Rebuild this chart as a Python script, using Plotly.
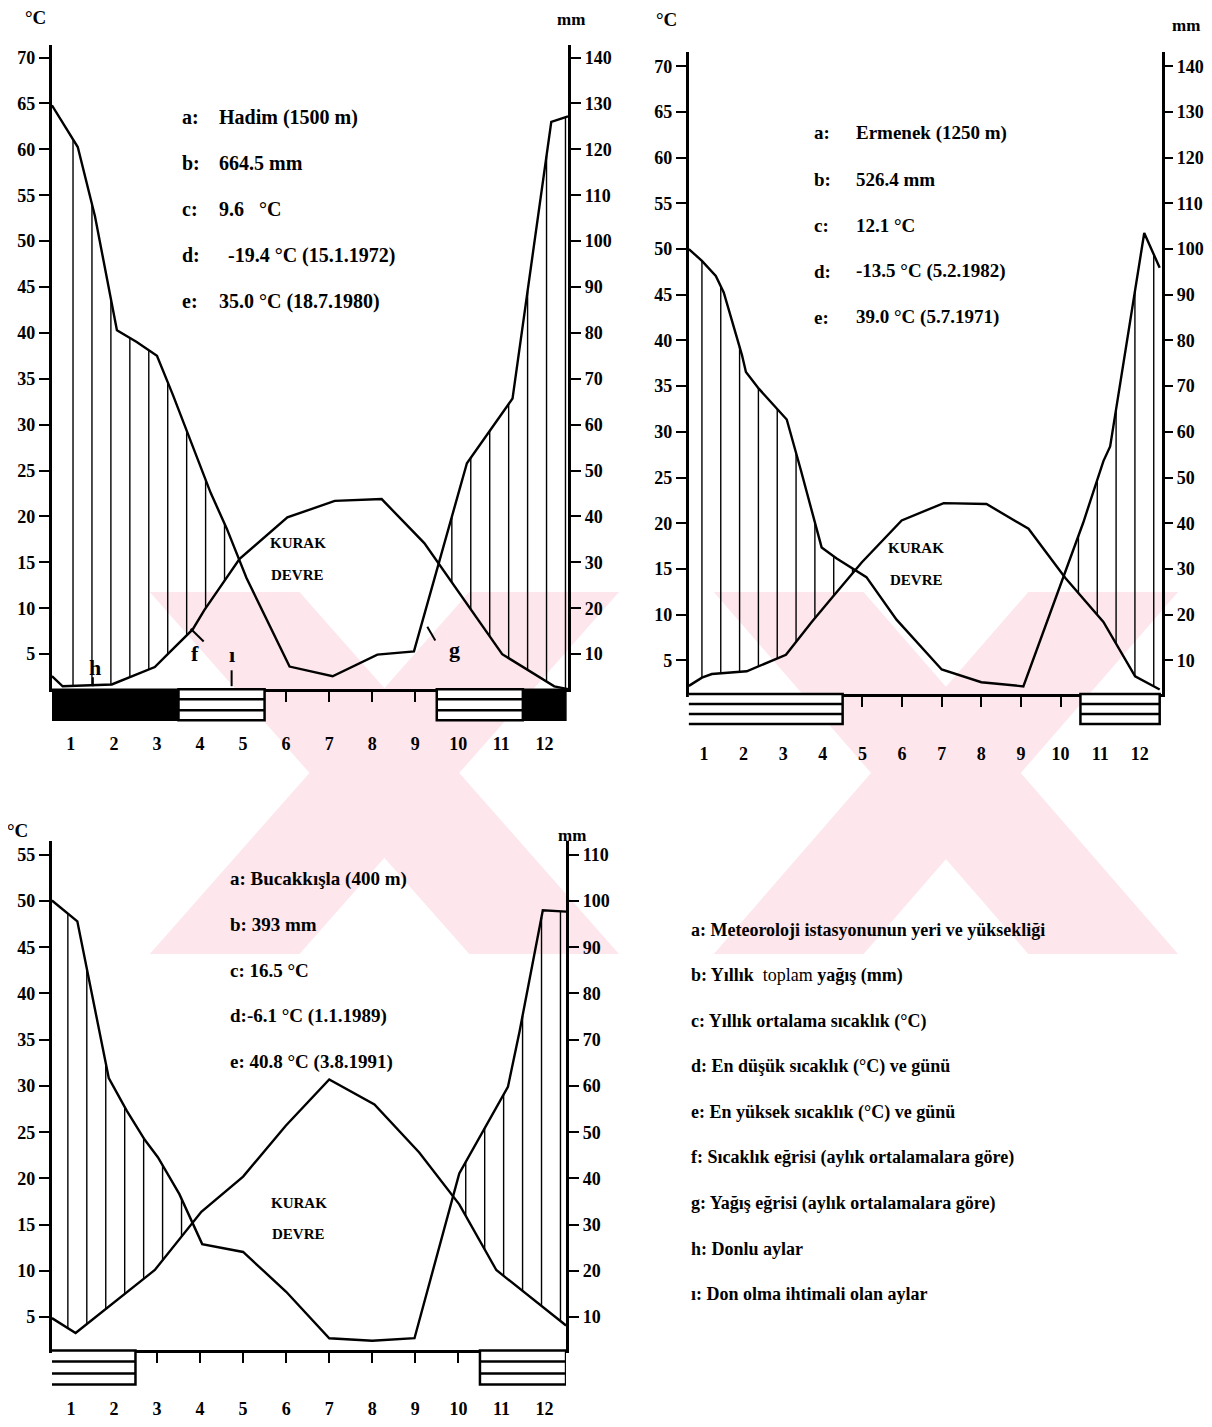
import numpy as np
import plotly.graph_objects as go

# page offset (browser body margin) and figure size
OFF = 8
W, H = 1212 - 2 * OFF, 1427 - 2 * OFF

# ---------------- data ----------------
MONTHS = list(range(1, 13))
MONTH_LABELS = [str(m) for m in MONTHS]

# Hadim (1500 m)
hadim_temp_month = [0.56, 0.81, 1.95, 2.95, 3.25, 3.83, 4.1, 4.92, 6.03, 7.13, 8.22, 9.21, 11.02, 12.23, 12.55]
hadim_temp_c = [2.6, 1.5, 1.7, 3.6, 5.0, 7.7, 9.8, 15.4, 19.9, 21.7, 21.9, 17.1, 5.0, 1.5, 1.2]
hadim_prec_month = [0.56, 1.16, 1.56, 2.07, 2.53, 3.0, 3.37, 3.83, 4.25, 4.62, 5.08, 6.08, 7.08, 8.12, 8.97,
                    10.2, 11.26, 12.16, 12.55]
hadim_prec_mm = [129.6, 120.5, 105.4, 80.6, 78.0, 75.0, 66.5, 55.3, 45.1, 37.4, 26.6, 7.3, 5.2, 9.9, 10.6,
                 51.6, 65.7, 126.0, 127.2]
hadim_frost = [1, 2, 3, 12]
hadim_frost_possible = [4, 5, 10, 11]
hadim_info = [("a:", "Hadim (1500 m)"), ("b:", "664.5 mm"), ("c:", "9.6   °C"),
              ("d:", "-19.4 °C (15.1.1972)"), ("e:", "35.0 °C (18.7.1980)")]

# Ermenek (1250 m)
ermenek_temp_month = [0.62, 0.95, 1.2, 2.08, 3.07, 3.72, 4.22, 4.98, 5.99, 7.05, 8.13, 9.19, 10.12, 11.08, 11.88, 12.5]
ermenek_temp_c = [2.2, 3.1, 3.5, 3.8, 5.6, 9.2, 11.8, 15.7, 20.3, 22.2, 22.1, 19.4, 14.0, 9.2, 3.25, 1.8]
ermenek_prec_month = [0.62, 0.95, 1.3, 1.5, 1.96, 2.06, 2.39, 3.09, 3.44, 3.9, 3.97, 4.35, 5.1, 5.86, 6.67, 7.0,
                      8.0, 9.06, 10.57, 11.08, 11.25, 12.11, 12.5]
ermenek_prec_mm = [100.0, 97.4, 94.1, 90.5, 76.8, 73.1, 69.4, 62.7, 51.8, 36.9, 34.7, 32.3, 28.2, 18.9, 11.3, 8.0,
                   5.2, 4.3, 40.1, 53.6, 56.8, 103.5, 95.9]
ermenek_frost = []
ermenek_frost_possible = [1, 2, 3, 4, 11, 12]
ermenek_info = [("a:", "Ermenek (1250 m)"), ("b:", "526.4 mm"), ("c:", "12.1 °C"),
                ("d:", "-13.5 °C (5.2.1982)"), ("e:", "39.0 °C (5.7.1971)")]

# Bucakkisla (400 m)
bucak_temp_month = [0.56, 1.11, 2.95, 4.03, 5.0, 5.99, 7.0, 8.05, 9.09, 10.02, 10.88, 12.0, 12.5]
bucak_temp_c = [4.9, 3.3, 10.1, 16.4, 20.2, 25.7, 30.7, 28.0, 22.8, 17.2, 10.1, 6.0, 4.1]
bucak_prec_month = [0.56, 0.92, 1.15, 1.88, 2.3, 2.72, 3.02, 3.52, 4.05, 5.0, 6.0, 7.0, 8.0, 8.98, 10.02,
                    11.15, 11.42, 11.96, 12.5]
bucak_prec_mm = [100.1, 97.3, 95.6, 61.7, 54.6, 48.3, 44.6, 36.6, 25.8, 24.1, 15.5, 5.45, 4.9, 5.45, 41.1,
                 59.8, 71.8, 98.0, 97.7]
bucak_frost = []
bucak_frost_possible = [1, 2, 11, 12]
bucak_info = ["a: Bucakkışla (400 m)", "b: 393 mm", "c: 16.5 °C", "d:-6.1 °C (1.1.1989)", "e: 40.8 °C (3.8.1991)"]

legend_lines = [
    "<b>a: Meteoroloji istasyonunun yeri ve yüksekliği</b>",
    "<b>b: Yıllık</b>  toplam <b>yağış (mm)</b>",
    "<b>c: Yıllık ortalama sıcaklık (°C)</b>",
    "<b>d: En düşük sıcaklık (°C) ve günü</b>",
    "<b>e: En yüksek sıcaklık (°C) ve günü</b>",
    "<b>f: Sıcaklık eğrisi (aylık ortalamalara göre)</b>",
    "<b>g: Yağış eğrisi (aylık ortalamalara göre)</b>",
    "<b>h: Donlu aylar</b>",
    "<b>ı: Don olma ihtimali olan aylar</b>",
]

# ---------------- helpers ----------------
SERIF = "Liberation Serif"
TICKFONT = dict(family=SERIF, size=18, color="black", weight="bold")


def PX(x):
    return (x - OFF) / W


def PY(y):
    return 1 - (y - OFF) / H


def hatch(tm, tv, pm, pv, start, step, xmax):
    xs = np.arange(start, xmax, step)
    t = np.interp(xs, tm, tv)
    p = np.interp(xs, pm, np.asarray(pv) / 2.0)
    X, Y = [], []
    for x, a, b in zip(xs, t, p):
        if b > a + 0.4:
            X += [x, x, None]
            Y += [a, b, None]
    return X, Y


def runs(months):
    out = []
    for m in sorted(months):
        if out and m == out[-1][1] + 1:
            out[-1][1] = m
        else:
            out.append([m, m])
    return out


fig = go.Figure()
shapes = []
annotations = []

panels = [
    dict(tm=hadim_temp_month, tv=hadim_temp_c, pm=hadim_prec_month, pv=hadim_prec_mm,
         frost=hadim_frost, fposs=hadim_frost_possible,
         xa="x", ya="y", ya2="y2", xkey="xaxis", ykey="yaxis", y2key="yaxis2",
         xpx=(52, 569), ypx=(45, 695), xr=[0.56, 12.55], yr=[1.19, 71.4],
         tvals=list(range(5, 75, 5)), pvals=list(range(10, 150, 10)),
         hstart=1.05, hstep=0.44, standoff=26, barh=31, rtick=10),
    dict(tm=ermenek_temp_month, tv=ermenek_temp_c, pm=ermenek_prec_month, pv=ermenek_prec_mm,
         frost=ermenek_frost, fposs=ermenek_frost_possible,
         xa="x2", ya="y3", ya2="y4", xkey="xaxis2", ykey="yaxis3", y2key="yaxis4",
         xpx=(690, 1164), ypx=(52, 700), xr=[0.62, 12.56], yr=[1.3, 71.6],
         tvals=list(range(5, 75, 5)), pvals=list(range(10, 150, 10)),
         hstart=0.95, hstep=0.475, standoff=31, barh=30, rtick=8),
    dict(tm=bucak_temp_month, tv=bucak_temp_c, pm=bucak_prec_month, pv=bucak_prec_mm,
         frost=bucak_frost, fposs=bucak_frost_possible,
         xa="x3", ya="y5", ya2="y6", xkey="xaxis3", ykey="yaxis5", y2key="yaxis6",
         xpx=(52, 567), ypx=(848, 1362), xr=[0.56, 12.5], yr=[1.4, 56.5],
         tvals=list(range(5, 60, 5)), pvals=list(range(10, 120, 10)),
         hstart=0.93, hstep=0.44, standoff=30, barh=34, rtick=10),
]

layout_axes = {}
for P in panels:
    hx, hy = hatch(P["tm"], P["tv"], P["pm"], P["pv"], P["hstart"], P["hstep"], P["xr"][1])
    fig.add_trace(go.Scatter(x=hx, y=hy, mode="lines", line=dict(color="black", width=1.4),
                             xaxis=P["xa"], yaxis=P["ya"], showlegend=False, hoverinfo="skip"))
    fig.add_trace(go.Scatter(x=P["tm"], y=P["tv"], mode="lines", line=dict(color="black", width=2.4),
                             xaxis=P["xa"], yaxis=P["ya"], showlegend=False))
    fig.add_trace(go.Scatter(x=P["pm"], y=P["pv"], mode="lines", line=dict(color="black", width=2.4),
                             xaxis=P["xa"], yaxis=P["ya2"], showlegend=False))

    xd = [PX(P["xpx"][0]), PX(P["xpx"][1])]
    yd = [PY(P["ypx"][1]), PY(P["ypx"][0])]
    layout_axes[P["xkey"]] = dict(domain=xd, range=P["xr"], anchor=P["ya"], tickvals=MONTHS, ticktext=MONTH_LABELS,
                                  ticks="outside", ticklen=10, tickwidth=2, tickcolor="black",
                                  showline=True, linewidth=3, linecolor="black", showgrid=False,
                                  zeroline=False, tickfont=TICKFONT, ticklabelstandoff=P["standoff"],
                                  fixedrange=True)
    layout_axes[P["ykey"]] = dict(domain=yd, range=P["yr"], anchor=P["xa"], side="left",
                                  tickvals=P["tvals"], ticks="outside", ticklen=10, tickwidth=2,
                                  tickcolor="black", showline=True, linewidth=3, linecolor="black",
                                  showgrid=False, zeroline=False, tickfont=TICKFONT, fixedrange=True)
    layout_axes[P["y2key"]] = dict(overlaying=P["ya"], range=[2 * P["yr"][0], 2 * P["yr"][1]],
                                   anchor=P["xa"], side="right", tickvals=P["pvals"], ticks="outside",
                                   ticklen=P["rtick"], tickwidth=2, tickcolor="black", showline=True, linewidth=3,
                                   linecolor="black", showgrid=False, zeroline=False, tickfont=TICKFONT,
                                   fixedrange=True)

    # frost bars below the month axis
    bh = P["barh"]
    base = dict(xref=P["xa"], yref=P["ya"] + " domain", ysizemode="pixel", yanchor=0, layer="above")
    for a, b in runs(P["frost"]):
        shapes.append(dict(type="rect", x0=a - 0.5, x1=b + 0.5, y0=-bh, y1=0, fillcolor="black",
                           line=dict(color="black", width=1.5), **base))
    for a, b in runs(P["fposs"]):
        shapes.append(dict(type="rect", x0=a - 0.5, x1=b + 0.5, y0=-bh, y1=0, fillcolor="white",
                           line=dict(color="black", width=2.5), **base))
        for k in (1, 2):
            yy = -round(bh * k / 3)
            shapes.append(dict(type="line", x0=a - 0.5, x1=b + 0.5, y0=yy, y1=yy,
                               line=dict(color="black", width=2.5), **base))

# ---------------- watermark (pale pink X shapes) ----------------
PINK = "#fde6ec"


def band(xt0, xt1, xb0, xb1, yt=597, yb=962):
    path = "M {} {} L {} {} L {} {} L {} {} Z".format(PX(xt0), PY(yt), PX(xt1), PY(yt), PX(xb1), PY(yb),
                                                      PX(xb0), PY(yb))
    return dict(type="path", path=path, xref="paper", yref="paper", fillcolor=PINK,
                line=dict(width=0), layer="below")


shapes = [band(150, 300, 470, 620), band(470, 620, 150, 300),
          band(715, 865, 1030, 1180), band(1030, 1180, 715, 865)] + shapes

# ---------------- text ----------------


def add_text(x, y, text, size=18, xanchor="left", weight="bold"):
    annotations.append(dict(x=PX(x), y=PY(y), xref="paper", yref="paper", text=text, showarrow=False,
                            xanchor=xanchor, yanchor="middle",
                            font=dict(family=SERIF, size=size, color="black", weight=weight)))


# unit labels
add_text(36, 18, "°C", 19, "center")
add_text(572, 20, "mm", 17, "center")
add_text(668, 20, "°C", 19, "center")
add_text(1188, 26, "mm", 17, "center")
add_text(18, 838, "°C", 19, "center")
add_text(573, 843, "mm", 17, "center")

# station info
for i, (k, v) in enumerate(hadim_info):
    y = 118 + i * 46.5
    add_text(180, y, k, 20)
    add_text(217 if k != "d:" else 226, y, v, 20)
for i, (k, v) in enumerate(ermenek_info):
    y = 134 + i * 46.5
    add_text(813, y, k, 19)
    add_text(855, y, v, 19)
for i, v in enumerate(bucak_info):
    add_text(228, 886 + i * 46.3, v, 19)

# dry season labels
for cx, cy in [(298, 548), (918, 553), (299, 1213)]:
    add_text(cx, cy, "KURAK", 15, "center")
    add_text(cx, cy + 32, "DEVRE", 15, "center")

# curve / bar key letters on the Hadim diagram
add_text(195, 659, "f", 22, "center")
add_text(455, 655, "g", 22, "center")
add_text(95, 673, "h", 22, "center")
add_text(232, 660, "ı", 22, "center")
for (x0, y0, x1, y1) in [(191, 634, 204, 647), (428, 632, 436, 646), (93, 683, 93, 692), (232, 676, 232, 692)]:
    shapes.append(dict(type="line", xref="paper", yref="paper", x0=PX(x0), y0=PY(y0), x1=PX(x1), y1=PY(y1),
                       line=dict(color="black", width=2), layer="above"))

# explanation list
for i, t in enumerate(legend_lines):
    annotations.append(dict(x=PX(690), y=PY(938 + i * 45.9), xref="paper", yref="paper", text=t,
                            showarrow=False, xanchor="left", yanchor="middle",
                            font=dict(family=SERIF, size=18, color="black", weight="normal")))

fig.update_layout(width=W, height=H, margin=dict(l=0, r=0, t=0, b=0), paper_bgcolor="white",
                  plot_bgcolor="rgba(0,0,0,0)", showlegend=False, shapes=shapes, annotations=annotations,
                  **layout_axes)

fig.write_html("out.html")
